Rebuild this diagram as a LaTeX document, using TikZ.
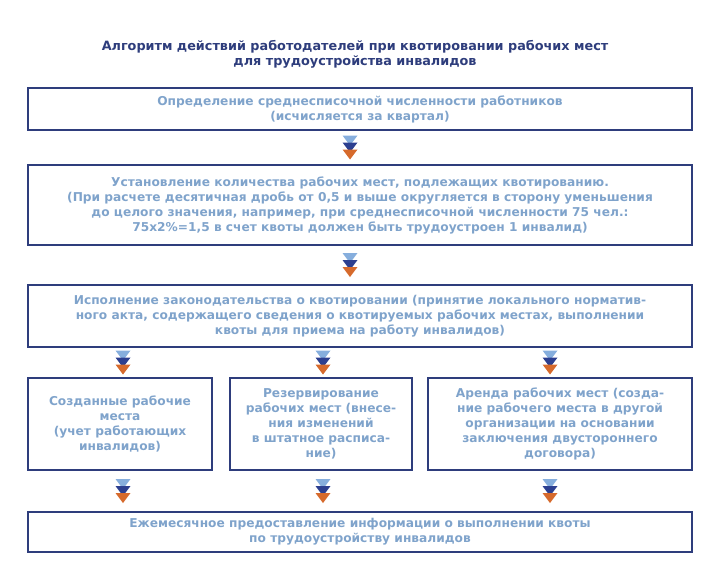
\documentclass[tikz,border=0pt]{standalone}
\usepackage{fontspec}
\setmainfont{DejaVu Sans}
\usetikzlibrary{calc}
\definecolor{navy}{HTML}{2E3D7C}
\definecolor{txtblue}{HTML}{7FA3CB}
\definecolor{lblue}{HTML}{86AEDD}
\definecolor{dblue}{HTML}{2C3F90}
\definecolor{orng}{HTML}{D66A2C}
\tikzset{
  stepbox/.style={draw=navy, line width=1.6pt, text=txtblue, align=center,
    font=\bfseries\fontsize{12.2}{15}\selectfont, inner sep=0pt}
}
% three stacked triangles centred at a point
\newcommand{\tristack}[1]{%
  \fill[lblue] ($(#1)+(-7.5,-12)$) -- ($(#1)+(7.5,-12)$) -- ($(#1)+(0,-2)$) -- cycle;
  \fill[dblue] ($(#1)+(-7.5,-5)$) -- ($(#1)+(7.5,-5)$) -- ($(#1)+(0,5)$) -- cycle;
  \fill[orng] ($(#1)+(-7.5,2)$) -- ($(#1)+(7.5,2)$) -- ($(#1)+(0,12)$) -- cycle;}
\newcommand{\link}[3]{%
  \coordinate (c) at (#3,0);
  \path (#1.south -| c) -- (#2.north -| c) coordinate[pos=0.5] (m);
  \tristack{m}}
\begin{document}
\begin{tikzpicture}[x=1pt,y=-1pt]
\useasboundingbox (0,0) rectangle (707,571);
\node[text=navy, font=\bfseries\fontsize{12.8}{15}\selectfont, align=center] (title) at (355,54)
  {Алгоритм действий работодателей при квотировании рабочих мест\\для трудоустройства инвалидов};
\node[stepbox, minimum width=664pt, minimum height=42pt] (count) at (360,109)
  {Определение среднесписочной численности работников\\(исчисляется за квартал)};
\node[stepbox, minimum width=664pt, minimum height=80pt] (quota) at (360,205)
  {Установление количества рабочих мест, подлежащих квотированию.\\
   (При расчете десятичная дробь от 0,5 и выше округляется в сторону уменьшения\\
   до целого значения, например, при среднесписочной численности 75 чел.:\\
   75х2\%=1,5 в счет квоты должен быть трудоустроен 1 инвалид)};
\node[stepbox, minimum width=664pt, minimum height=62pt] (law) at (360,316)
  {Исполнение законодательства о квотировании (принятие локального норматив-\\
   ного акта, содержащего сведения о квотируемых рабочих местах, выполнении\\
   квоты для приема на работу инвалидов)};
\node[stepbox, minimum width=184pt, minimum height=92pt] (created) at (120,424)
  {Созданные рабочие\\места\\(учет работающих\\инвалидов)};
\node[stepbox, minimum width=182pt, minimum height=92pt] (reserve) at (321,424)
  {Резервирование\\рабочих мест (внесе-\\ния изменений\\в штатное расписа-\\ние)};
\node[stepbox, minimum width=264pt, minimum height=92pt] (rent) at (560,424)
  {Аренда рабочих мест (созда-\\ние рабочего места в другой\\организации на основании\\заключения двустороннего\\договора)};
\node[stepbox, minimum width=664pt, minimum height=40pt] (report) at (360,532)
  {Ежемесячное предоставление информации о выполнении квоты\\по трудоустройству инвалидов};
\link{count}{quota}{350}
\link{quota}{law}{350}
\link{law}{created}{123}
\link{law}{reserve}{323}
\link{law}{rent}{550}
\link{created}{report}{123}
\link{reserve}{report}{323}
\link{rent}{report}{550}
\end{tikzpicture}
\end{document}
